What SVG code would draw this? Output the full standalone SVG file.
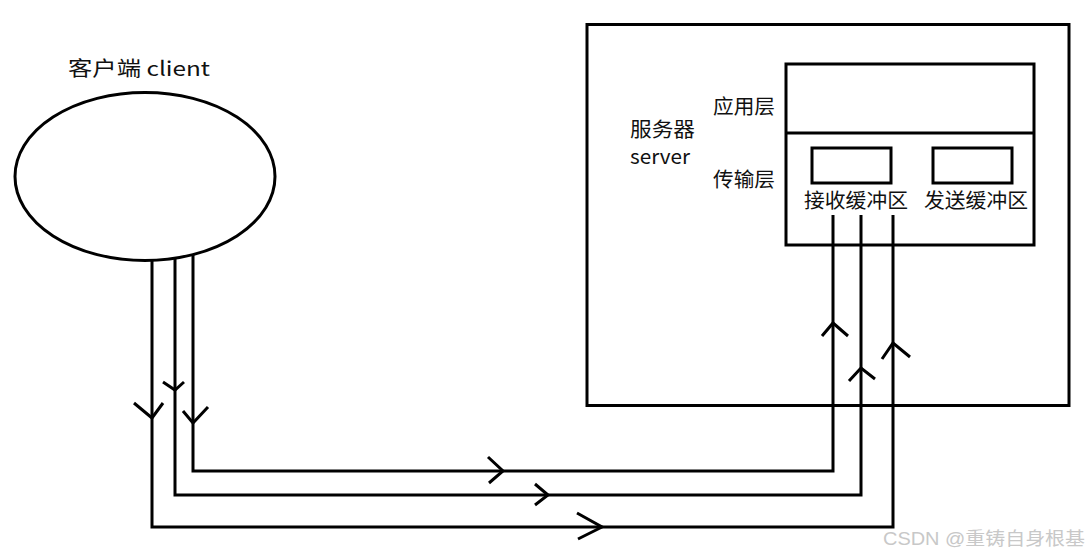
<svg xmlns="http://www.w3.org/2000/svg" width="1090" height="555" viewBox="0 0 1090 555">
<style>
.s{fill:none;stroke:#000;stroke-width:3}
.t{font-family:"Microsoft YaHei","Noto Sans CJK SC","Noto Sans",sans-serif;font-size:20px;fill:#111}
.w{font-family:"Liberation Sans","Noto Sans CJK SC",sans-serif;font-size:18px;fill:#c8c8c8}
</style>
<rect width="1090" height="555" fill="#fff"/>
<g id="client">
<ellipse class="s" cx="145" cy="176.5" rx="130" ry="84"/>
<text class="t" x="68" y="76" font-size="22" textLength="142" lengthAdjust="spacingAndGlyphs">客户端 client</text>
</g>
<g id="server">
<rect class="s" x="587" y="24.5" width="482" height="381"/>
<text class="t" x="630" y="137" font-size="19" textLength="65" lengthAdjust="spacingAndGlyphs">服务器</text>
<text class="t" x="630" y="164" font-size="19" textLength="60" lengthAdjust="spacingAndGlyphs">server</text>
<text class="t" x="713" y="114" textLength="62" lengthAdjust="spacingAndGlyphs">应用层</text>
<text class="t" x="713" y="187" textLength="62" lengthAdjust="spacingAndGlyphs">传输层</text>
</g>
<g id="stack">
<rect class="s" x="786" y="64" width="248" height="181"/>
<line class="s" x1="786" y1="133" x2="1034" y2="133"/>
</g>
<g id="recvbuf">
<rect class="s" x="812" y="148" width="79" height="35"/>
<text class="t" x="804" y="208" textLength="104" lengthAdjust="spacingAndGlyphs">接收缓冲区</text>
</g>
<g id="sendbuf">
<rect class="s" x="933" y="148" width="79" height="35"/>
<text class="t" x="924" y="208" textLength="104" lengthAdjust="spacingAndGlyphs">发送缓冲区</text>
</g>
<g id="connectors" class="s">
<polyline points="193,255 193,471 833,471 833,215"/>
<polyline points="175,258 175,495 861,495 861,215"/>
<polyline points="152,260 152,527 893,527 893,215"/>
<polyline points="134,403 152,418 163,403"/>
<polyline points="163,382 175,390 184,382"/>
<polyline points="183,411 193,423 208,407"/>
<polyline points="488,457 503,471 489,483"/>
<polyline points="535,484 548,495 535,505"/>
<polyline points="577,513 602,527 578,539"/>
<polyline points="822,336 833,323 848,336"/>
<polyline points="849,381 861,368 875,379"/>
<polyline points="882,359 893,343 910,357"/>
</g>
<text class="w" x="883" y="545" textLength="202" lengthAdjust="spacingAndGlyphs">CSDN @重铸自身根基</text>
</svg>
